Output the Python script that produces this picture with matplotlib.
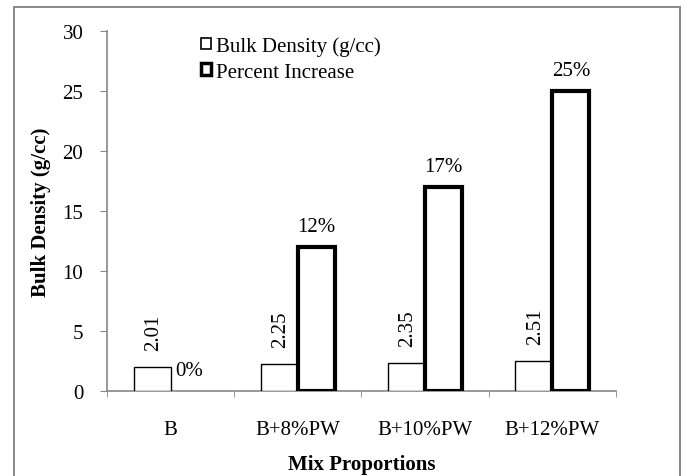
import numpy as np
import matplotlib
matplotlib.use('Agg')
import matplotlib.pyplot as plt
from matplotlib.patches import Rectangle

plt.rcParams['font.family'] = ['Liberation Serif', 'DejaVu Serif']

# data
mixes = ['B', 'B+8%PW', 'B+10%PW', 'B+12%PW']
bulk_density = [2.01, 2.25, 2.35, 2.51]
percent_increase = [0, 12, 17, 25]
bulk_labels = ['2.01', '2.25', '2.35', '2.51']
pct_labels = ['0%', '12%', '17%', '25%']

FS = 15
GRAY = '#878787'

fig = plt.figure(figsize=(6.87, 4.77), dpi=100)
ax = fig.add_axes([0.1557, 0.178, 0.741, 0.755])

# outer frame (chart area border)
fig.patches.append(Rectangle((0.0204, -0.05), 0.9694, 1.033, transform=fig.transFigure,
                             fill=False, edgecolor=GRAY, linewidth=1.4, zorder=0))

x = np.arange(len(mixes))
w = 0.29
b1 = ax.bar(x - w / 2, bulk_density, w, facecolor='white', edgecolor='black',
            linewidth=1.0, label='Bulk Density (g/cc)', zorder=3)
b2 = ax.bar(x + w / 2, percent_increase, w, facecolor='white', edgecolor='black',
            linewidth=3.0, label='Percent Increase', zorder=3)
# the zero-height bar should not show a thick line
b2[0].set_visible(False)

for rect, txt in zip(b1, bulk_labels):
    ax.annotate(txt, (rect.get_x() + rect.get_width() / 2, rect.get_height()),
                xytext=(1, 12), textcoords='offset points', rotation=90,
                ha='center', va='bottom', fontsize=FS)
for rect, txt in zip(b2, pct_labels):
    ax.annotate(txt, (rect.get_x() + rect.get_width() / 2, rect.get_height()),
                xytext=(0, 15), textcoords='offset points',
                ha='center', va='center', fontsize=FS)

ax.set_xlim(-0.5, len(mixes) - 0.5)
ax.set_ylim(0, 30)
ax.set_yticks(np.arange(0, 31, 5))
ax.set_xticks(x)
ax.set_xticklabels(mixes)
ax.set_xticks(np.arange(-0.5, len(mixes), 1), minor=True)

for s in ['top', 'right']:
    ax.spines[s].set_visible(False)
for s in ['left', 'bottom']:
    ax.spines[s].set_color(GRAY)
    ax.spines[s].set_linewidth(1.2)

ax.tick_params(axis='y', direction='out', length=5, color=GRAY, labelsize=FS, pad=12)
ax.tick_params(axis='x', which='major', length=0, labelsize=FS, pad=21)
ax.tick_params(axis='x', which='minor', direction='out', length=4, color=GRAY)

ax.set_ylabel('Bulk Density (g/cc)', fontsize=FS, fontweight='bold', labelpad=8)
ax.set_xlabel('Mix Proportions', fontsize=FS, fontweight='bold', labelpad=10.5)

leg = ax.legend(loc='upper left', bbox_to_anchor=(0.2775, 0.944), bbox_transform=fig.transFigure,
                frameon=False, fontsize=FS, handlelength=0.5, handleheight=0.5,
                handletextpad=0.2, labelspacing=0.33, borderpad=0)
leg.legend_handles[0].set_linewidth(1.2)
leg.legend_handles[1].set_linewidth(2.5)
leg.legend_handles[1].set_visible(True)

fig.savefig('out.png', dpi=100)
